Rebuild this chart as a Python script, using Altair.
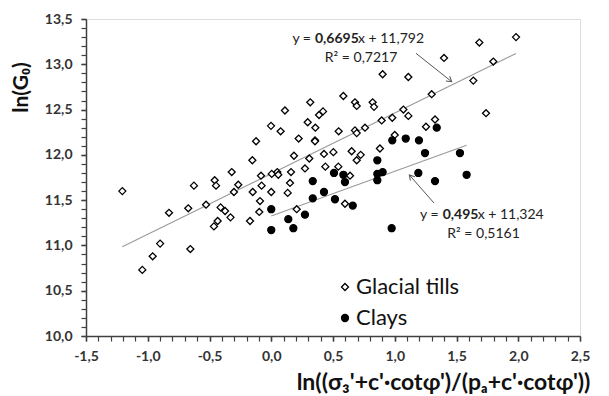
import altair as alt
import pandas as pd

# ---- data ----
till_x = [-1.206, -0.626, -0.458, -0.447, -0.32, -0.828, -0.672, -0.528, -0.41, -0.374,
          -0.33, -0.434, -0.464, -0.90, -0.96, -1.044, -0.655, 0.584, 0.316, 0.111,
          0.419, 0.387, -0.002, 0.076, 0.295, 0.357, 0.546, 0.222, 0.354, 0.354,
          -0.123, -0.153, 0.184, 0.308, 0.427, 0.503, -0.267, -0.302, -0.083, 0.004,
          0.049, 0.057, 0.16, 0.273, 0.438, 0.543, 0.152, -0.15, -0.078, 0.0,
          0.133, -0.091, -0.097, -0.172, 0.206, 0.597, 1.685, 1.399, 0.902, 1.11,
          1.636, 1.299, 0.678, 0.692, 0.821, 0.832, 1.07, 1.11, 0.98, 0.894,
          0.678, 0.692, 0.759, 1.326, 1.253, 1.0, 0.88, 0.651, 1.982, 1.798,
          1.739, 0.724, 0.692, 0.638]
till_y = [11.60, 11.66, 11.72, 11.66, 11.81, 11.36, 11.41, 11.45, 11.42, 11.38,
          11.31, 11.27, 11.21, 11.02, 10.88, 10.73, 10.96, 12.65, 12.58, 12.49,
          12.48, 12.44, 12.32, 12.26, 12.36, 12.30, 12.26, 12.18, 12.16, 12.15,
          12.15, 11.94, 11.99, 11.96, 12.01, 12.03, 11.67, 11.59, 11.77, 11.79,
          11.81, 11.78, 11.81, 11.85, 11.87, 11.87, 11.69, 11.59, 11.66, 11.59,
          11.58, 11.49, 11.37, 11.27, 11.40, 11.46, 13.24, 13.07, 12.89, 12.86,
          12.82, 12.67, 12.58, 12.54, 12.58, 12.53, 12.50, 12.43, 12.41, 12.38,
          12.27, 12.24, 12.30, 12.39, 12.31, 12.22, 12.07, 12.04, 13.30, 13.03,
          12.46, 12.00, 11.94, 11.77]

clay_x = [0.0, 0.0, 0.138, 0.179, 0.273, 0.336, 0.336, 0.427, 0.516, 0.508,
          0.584, 0.597, 0.66, 0.859, 0.902, 0.859, 0.859, 0.975, 0.98, 1.089,
          1.196, 1.245, 1.191, 1.326, 1.34, 1.528, 1.582]
clay_y = [11.40, 11.17, 11.29, 11.19, 11.34, 11.71, 11.52, 11.59, 11.51, 11.80,
          11.78, 11.70, 11.44, 11.94, 11.81, 11.79, 11.72, 11.19, 12.16, 12.18,
          12.16, 12.02, 11.80, 11.71, 12.30, 12.02, 11.78]

series_names = ["Glacial tills", "Clays"]
slopes = [0.6695, 0.495]
intercepts = [11.792, 11.324]
fit_x_start = [-1.206, 0.0]
fit_x_end = [1.982, 1.582]

x_major = [-1.5, -1.0, -0.5, 0.0, 0.5, 1.0, 1.5, 2.0, 2.5]
y_major = [10.0, 10.5, 11.0, 11.5, 12.0, 12.5, 13.0, 13.5]
x_minor = [round(-1.5 + 0.1 * i, 1) for i in range(41)]
y_minor = [round(10.0 + 0.1 * i, 1) for i in range(36)]

# equation annotations (anchor at the left edge of the bold slope)
eq_prefix = ["y =", "y ="]
eq_slope = ["0,6695", "0,495"]
eq_suffix = ["x + 11,792", "x + 11,324"]
eq_r2 = ["R\u00b2 = 0,7217", "R\u00b2 = 0,5161"]
eq_anchor_x = [0.354, 1.388]
eq_anchor_y = [13.28, 11.336]
eq_center_x = [0.727, 1.719]
r2_y = [13.069, 11.126]
slope_width = [43, 35]

arrow_x = [1.172, 1.318]
arrow_y = [13.121, 11.468]
arrow_x2 = [1.461, 1.118]
arrow_y2 = [12.808, 11.778]
arrow_angle = [38.5, 228.6]

FONT = "Lato"
AXC = "#404040"

pts = pd.DataFrame({
    "x": till_x + clay_x,
    "y": till_y + clay_y,
    "series": ["Glacial tills"] * len(till_x) + ["Clays"] * len(clay_x),
})

fit_rows = []
for n, s, b, x0, x1 in zip(series_names, slopes, intercepts, fit_x_start, fit_x_end):
    fit_rows.append({"series": n, "x": x0, "y": s * x0 + b})
    fit_rows.append({"series": n, "x": x1, "y": s * x1 + b})
fits = pd.DataFrame(fit_rows)

arr = pd.DataFrame({"x": arrow_x, "y": arrow_y, "x2": arrow_x2, "y2": arrow_y2,
                    "angle": arrow_angle})

xscale = alt.Scale(domain=[-1.5, 2.5], nice=False, zero=False)
yscale = alt.Scale(domain=[10.0, 13.5], nice=False, zero=False)

lab_expr = "replace(replace(format(datum.value, '.1f'), '.', ','), '\u2212', '-')"

x_axis = alt.Axis(values=x_major, labelExpr=lab_expr, grid=False, tickSize=5,
                  tickWidth=1.5, tickColor=AXC, domainColor=AXC, domainWidth=1.5,
                  labelFont=FONT, labelFontSize=14, labelFontWeight="bold",
                  labelColor="#333333", labelPadding=8, labelFlush=False,
                  labelOverlap=False,
                  title="ln((\u03c3\u2083'+c'\u00b7cot\u03c6')/(p\u2090+c'\u00b7cot\u03c6'))",
                  titleFont=FONT, titleFontSize=23, titleFontWeight="bold",
                  titleColor="#111111", titleX=357, titleY=46, titleBaseline="middle",
                  titleAlign="center", orient="bottom")
y_axis = alt.Axis(values=y_major, labelExpr=lab_expr, grid=False, tickSize=5,
                  tickWidth=1.5, tickColor=AXC, domainColor=AXC, domainWidth=1.5,
                  labelFont=FONT, labelFontSize=14, labelFontWeight="bold",
                  labelColor="#333333", labelPadding=9, labelFlush=False,
                  labelOverlap=False,
                  title="ln(G\u2080)", titleFont=FONT, titleFontSize=21,
                  titleFontWeight="bold", titleColor="#111111", titleAngle=270,
                  titleX=-65, titleY=68, titleAlign="center", titleBaseline="middle",
                  orient="left")

x_minor_axis = alt.Axis(values=x_minor, labels=False, domain=False, grid=False,
                        tickSize=5, tickWidth=1.2, tickColor=AXC, title=None,
                        orient="bottom")
y_minor_axis = alt.Axis(values=y_minor, labels=False, domain=False, grid=False,
                        tickSize=5, tickWidth=1.2, tickColor=AXC, title=None,
                        orient="left")

leg = alt.Legend(title=None, orient="none", legendX=248, legendY=257,
                 labelFont=FONT, labelFontSize=22, labelColor="#111111",
                 symbolSize=49, symbolStrokeColor="black", symbolStrokeWidth=1.3,
                 rowPadding=9, labelOffset=0, padding=0)

points = alt.Chart(pts).mark_point(filled=True, strokeWidth=1.3,
                                   size=49, opacity=1).encode(
    x=alt.X("x:Q", scale=xscale, axis=x_axis),
    y=alt.Y("y:Q", scale=yscale, axis=y_axis),
    shape=alt.Shape("series:N", scale=alt.Scale(domain=series_names,
                                                range=["diamond", "circle"]), legend=leg),
    fill=alt.Fill("series:N", scale=alt.Scale(domain=series_names,
                                              range=["white", "black"]), legend=leg),
    stroke=alt.Stroke("series:N", scale=alt.Scale(domain=series_names,
                                                  range=["black", "black"]), legend=leg),
)

lines = alt.Chart(fits).mark_line(color="#9a9a9a", strokeWidth=1.1).encode(
    x=alt.X("x:Q", scale=xscale, axis=x_minor_axis),
    y=alt.Y("y:Q", scale=yscale, axis=y_minor_axis),
    detail="series:N",
)

tfont = dict(font=FONT, fontSize=14, color="#222222", baseline="middle")
text_layers = []
for i in range(len(eq_prefix)):
    row = pd.DataFrame({"pre": [eq_prefix[i]], "slope": [eq_slope[i]],
                        "suf": [eq_suffix[i]], "r2": [eq_r2[i]],
                        "ax": [eq_anchor_x[i]], "ay": [eq_anchor_y[i]],
                        "cx": [eq_center_x[i]], "ry": [r2_y[i]]})
    base = alt.Chart(row)
    enc = dict(x=alt.X("ax:Q", scale=xscale, axis=None),
               y=alt.Y("ay:Q", scale=yscale, axis=None))
    text_layers.append(base.mark_text(align="right", dx=-4, **tfont).encode(text="pre:N", **enc))
    text_layers.append(base.mark_text(align="left", fontWeight="bold", **tfont).encode(text="slope:N", **enc))
    text_layers.append(base.mark_text(align="left", dx=slope_width[i], **tfont).encode(text="suf:N", **enc))
    text_layers.append(base.mark_text(align="center", **tfont).encode(
        x=alt.X("cx:Q", scale=xscale, axis=None),
        y=alt.Y("ry:Q", scale=yscale, axis=None), text="r2:N"))

arrow_lines = alt.Chart(arr).mark_rule(color="#555555", strokeWidth=1).encode(
    x=alt.X("x:Q", scale=xscale, axis=None), y=alt.Y("y:Q", scale=yscale, axis=None),
    x2="x2:Q", y2="y2:Q")
arrow_heads = alt.Chart(arr).mark_point(shape="M-1,-0.6L0,0L-1,0.6", filled=False,
                                        stroke="#555555", strokeWidth=1, size=100,
                                        opacity=1).encode(
    x=alt.X("x2:Q", scale=xscale, axis=None), y=alt.Y("y2:Q", scale=yscale, axis=None),
    angle=alt.Angle("angle:Q", scale=None))

chart = alt.layer(lines, points, *text_layers, arrow_lines, arrow_heads
                  ).resolve_axis(x="independent", y="independent").properties(
    width=494, height=317,
    autosize=alt.AutoSizeParams(type="none"),
    padding={"left": 78, "top": 11, "right": 21, "bottom": 62},
).configure_view(stroke=None).configure(background="white")

chart.save("out.html", embed_options={"renderer": "svg", "actions": False})
